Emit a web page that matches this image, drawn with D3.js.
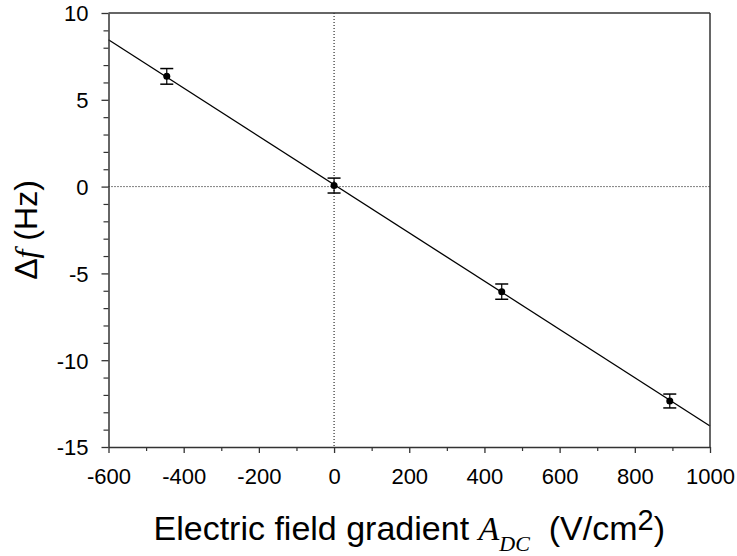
<!DOCTYPE html>
<html>
<head>
<meta charset="utf-8">
<script src="https://cdn.jsdelivr.net/npm/d3@7"></script>
<style>
  html, body { margin: 0; padding: 0; background: #fff; }
  svg { display: block; }
  .tick text { font-family: "Liberation Sans", Arial, sans-serif; }
</style>
</head>
<body>
<svg id="chart" width="737" height="556"></svg>
<script>
// Data
const xVals = [-445, 0, 446, 893];
const yVals = [6.35, 0.06, -6.05, -12.35];
const yErr  = [0.45, 0.43, 0.44, 0.40];
const fitX  = [-600, 1000];
const fitY  = [8.46, -13.79];
const xTicks = [-600, -400, -200, 0, 200, 400, 600, 800, 1000];
const xMinor = [-500, -300, -100, 100, 300, 500, 700, 900];
const yTicks = [-15, -10, -5, 0, 5, 10];
const yMinor = [-14, -13, -12, -11, -9, -8, -7, -6, -4, -3, -2, -1, 1, 2, 3, 4, 6, 7, 8, 9];

const W = 737, H = 556;
const m = { left: 108.5, top: 13, right: 27, bottom: 109 };
const svg = d3.select("#chart");
const x = d3.scaleLinear().domain([-600, 1000]).range([m.left, W - m.right]);
const y = d3.scaleLinear().domain([-15, 10]).range([H - m.bottom, m.top]);

const axisColor = "#333";
const fmt = d => String(d);

// zero reference lines (dotted)
svg.append("line")
  .attr("x1", x(0)).attr("x2", x(0))
  .attr("y1", y(10)).attr("y2", y(-15))
  .attr("stroke", "#000").attr("stroke-width", 1).attr("stroke-dasharray", "1,2");
svg.append("line")
  .attr("x1", x(-600)).attr("x2", x(1000))
  .attr("y1", y(0)).attr("y2", y(0))
  .attr("stroke", "#000").attr("stroke-width", 1).attr("stroke-dasharray", "1,2");

// Fit line
const line = d3.line().x((d, i) => x(fitX[i])).y((d, i) => y(fitY[i]));
svg.append("path")
  .attr("d", line(fitX))
  .attr("fill", "none").attr("stroke", "#000").attr("stroke-width", 1.3);

// Minor ticks
const gxMinor = svg.append("g").attr("transform", `translate(0,${y(-15)})`)
  .call(d3.axisBottom(x).tickValues(xMinor).tickSize(4).tickFormat(""));
const gyMinor = svg.append("g").attr("transform", `translate(${x(-600)},0)`)
  .call(d3.axisLeft(y).tickValues(yMinor).tickSize(5).tickFormat(""));
[gxMinor, gyMinor].forEach(g => {
  g.select(".domain").remove();
  g.selectAll("line").attr("stroke", axisColor).attr("stroke-width", 1.2);
});

// Major axes
const gx = svg.append("g").attr("transform", `translate(0,${y(-15)})`)
  .call(d3.axisBottom(x).tickValues(xTicks).tickSize(6).tickSizeOuter(0).tickPadding(15).tickFormat(fmt));
const gy = svg.append("g").attr("transform", `translate(${x(-600)},0)`)
  .call(d3.axisLeft(y).tickValues(yTicks).tickSize(7).tickSizeOuter(0).tickPadding(13).tickFormat(fmt));
[gx, gy].forEach(g => {
  g.select(".domain").attr("stroke", axisColor).attr("stroke-width", 1.5);
  g.selectAll(".tick line").attr("stroke", axisColor).attr("stroke-width", 1.3);
  g.selectAll(".tick text").attr("fill", "#000").style("font-size", "22px")
   .style("font-family", '"Liberation Sans", Arial, sans-serif');
});
gy.selectAll(".tick text").attr("dy", "0.36em");

// Top and right frame
svg.append("line").attr("x1", x(-600)).attr("x2", x(1000)).attr("y1", y(10)).attr("y2", y(10))
  .attr("stroke", axisColor).attr("stroke-width", 1.5);
svg.append("line").attr("x1", x(1000)).attr("x2", x(1000)).attr("y1", y(10)).attr("y2", y(-15))
  .attr("stroke", axisColor).attr("stroke-width", 1.5);

// Error bars
const cap = 6.5;
const eb = svg.append("g");
xVals.forEach((xv, i) => {
  const cx = x(xv), top = y(yVals[i] + yErr[i]), bot = y(yVals[i] - yErr[i]);
  eb.append("line").attr("x1", cx).attr("x2", cx).attr("y1", top).attr("y2", bot)
    .attr("stroke", "#000").attr("stroke-width", 1.2);
  eb.append("line").attr("x1", cx - cap).attr("x2", cx + cap).attr("y1", top).attr("y2", top)
    .attr("stroke", "#000").attr("stroke-width", 1.5);
  eb.append("line").attr("x1", cx - cap).attr("x2", cx + cap).attr("y1", bot).attr("y2", bot)
    .attr("stroke", "#000").attr("stroke-width", 1.5);
});

// Points
svg.append("g").selectAll("circle").data(xVals).join("circle")
  .attr("cx", d => x(d)).attr("cy", (d, i) => y(yVals[i])).attr("r", 3.5).attr("fill", "#000");

// X axis label
const xl = svg.append("text")
  .attr("x", (x(-600) + x(1000)) / 2).attr("y", 540)
  .attr("text-anchor", "middle")
  .style("font-family", '"Liberation Sans", Arial, sans-serif')
  .style("font-size", "34px").attr("fill", "#000");
xl.append("tspan").text("Electric field gradient ");
xl.append("tspan").style("font-family", '"Liberation Serif", "Times New Roman", serif')
  .style("font-style", "italic").text("A");
xl.append("tspan").attr("dy", 11).style("font-family", '"Liberation Serif", "Times New Roman", serif')
  .style("font-style", "italic").style("font-size", "22px").text("DC");
xl.append("tspan").attr("dy", -11).text("\u00A0\u00A0(V/cm");
xl.append("tspan").attr("dy", -10).style("font-size", "29px").text("2");
xl.append("tspan").attr("dy", 10).text(")");

// Y axis label
const yl = svg.append("text")
  .attr("transform", `translate(37,${(y(10) + y(-15)) / 2}) rotate(-90)`)
  .attr("text-anchor", "middle")
  .style("font-family", '"Liberation Sans", Arial, sans-serif')
  .style("font-size", "32px").attr("fill", "#000");
yl.append("tspan").text("\u0394");
yl.append("tspan").style("font-family", '"Liberation Serif", "Times New Roman", serif')
  .style("font-style", "italic").text("f");
yl.append("tspan").text(" (Hz)");
</script>
</body>
</html>
